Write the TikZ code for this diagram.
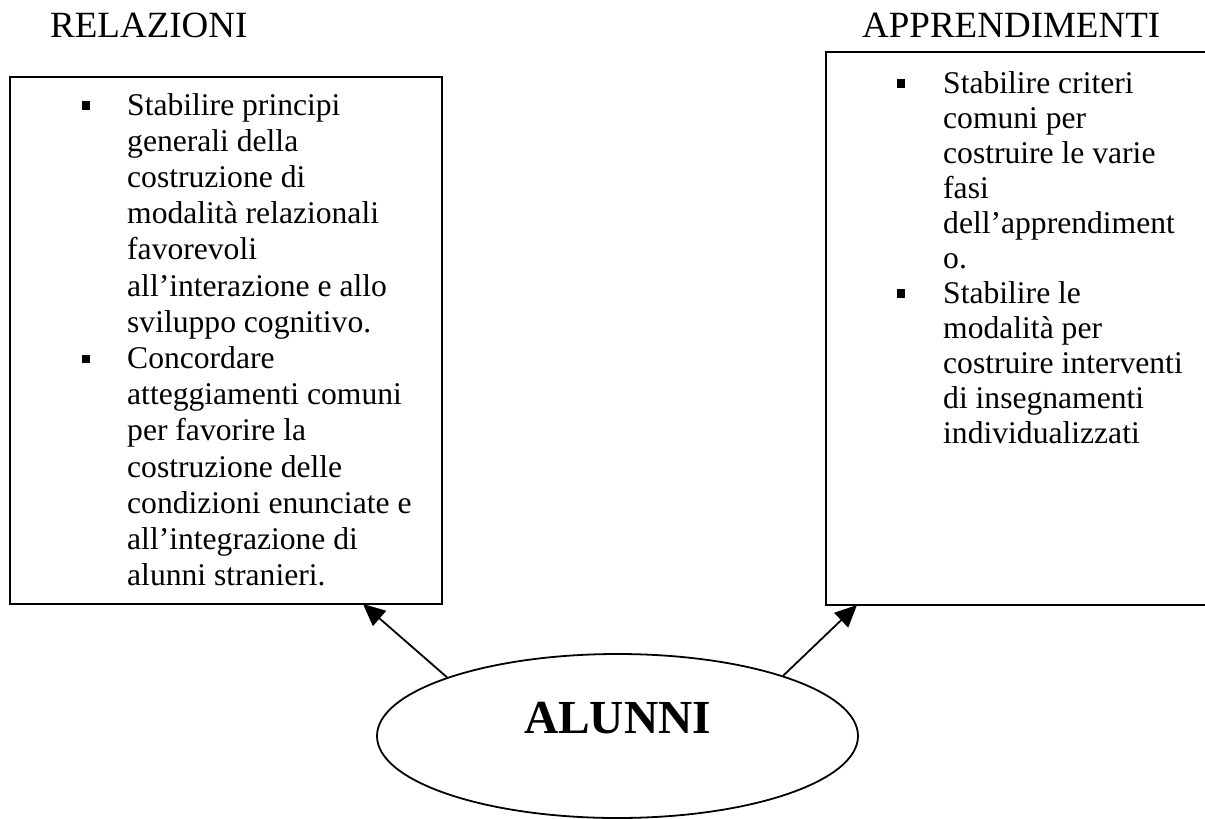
\documentclass[tikz,border=0pt]{standalone}
\usepackage{fontspec}
\setmainfont{Liberation Serif}
\usetikzlibrary{arrows.meta,shapes.geometric}
\begin{document}
\begin{tikzpicture}[x=1pt,y=-1pt,
  boxs/.style={draw, line width=1.8pt, inner sep=0pt},
  body/.style={anchor=base west, align=left, inner sep=0pt, font=\fontsize{31.6}{36.2}\selectfont},
  bodyr/.style={body, font=\fontsize{31.6}{35}\selectfont},
  title/.style={anchor=base west, inner sep=0pt, font=\fontsize{37}{44}\selectfont},
  bul/.style={fill=black, minimum size=8.5pt, inner sep=0pt, draw=none},
  conn/.style={line width=1.8pt, -{Triangle[length=22pt,width=20pt]}}]

\useasboundingbox (0,0) rectangle (1205,819);
\fill[white] (0,0) rectangle (1205,819);

% boxes
\node[boxs, minimum width=432, minimum height=527] (lbox) at (226,340.5) {};
\node[boxs, minimum width=414, minimum height=553] (rbox) at (1033,328.5) {};

% titles
\node[title] (trel) at (50,37) {RELAZIONI};
\node[title] (tapp) at (862,37) {APPRENDIMENTI};

% left box items (anchor = baseline of the last line)
\node[bul] (bl1) at (86,105.5) {};
\node[body] (l1) at (127,332.2) {Stabilire principi\\generali della\\costruzione di\\modalità relazionali\\favorevoli\\all’interazione e allo\\sviluppo cognitivo.};
\node[bul] (bl2) at (86,358.9) {};
\node[body] (l2) at (127,585.6) {Concordare\\atteggiamenti comuni\\per favorire la\\costruzione delle\\condizioni enunciate e\\all’integrazione di\\alunni stranieri.};

% right box items
\node[bul] (br1) at (901,83.5) {};
\node[bodyr] (r1) at (943,268) {Stabilire criteri\\comuni per\\costruire le varie\\fasi\\dell’apprendiment\\o.};
\node[bul] (br2) at (901,293.5) {};
\node[bodyr] (r2) at (943,443) {Stabilire le\\modalità per\\costruire interventi\\di insegnamenti\\individualizzati};

% ellipse
\node[draw, ellipse, line width=1.8pt, minimum width=481, minimum height=164, inner sep=0pt] (alunni) at (617.5,736) {};
\node[anchor=base, inner sep=0pt, font=\fontsize{47.4}{56}\selectfont\bfseries] (alunnitxt) at (617.5,733) {ALUNNI};

% connectors
\coordinate (lt) at (363,604);
\coordinate (rt) at (857,605);
\draw[conn] (alunni.161.6) -- (lt);
\draw[conn] (alunni.20.2) -- (rt);
\end{tikzpicture}
\end{document}
